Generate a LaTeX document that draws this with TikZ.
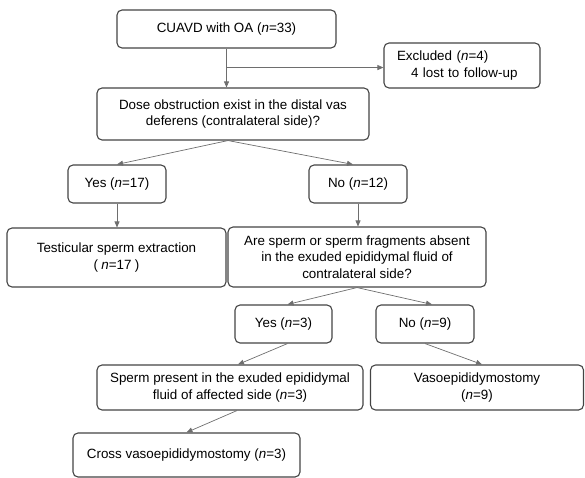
\documentclass[tikz,border=0pt]{standalone}
\usepackage{fontspec}
\setmainfont{Liberation Sans}
\usetikzlibrary{arrows.meta}
\definecolor{boxgray}{RGB}{68,68,68}
\definecolor{linegray}{RGB}{110,110,110}

\begin{document}
\begin{tikzpicture}[x=1pt, y=-1pt,
        box/.style={rectangle, rounded corners=5pt, draw=boxgray, line width=1.1pt,
            inner sep=0pt, align=center, font=\fontsize{13.4}{16.5}\selectfont},
        flow/.style={draw=linegray, line width=0.7pt, -{Triangle[length=6pt, width=5pt]}}]
            \useasboundingbox (0, 0) rectangle (585, 478);

            \node[box, minimum width=219pt, minimum height=38pt] (cuavd) at (226.5, 29) {CUAVD with OA (\textit{n}=33)};
            \node[box, text width=130pt, inner xsep=13pt, minimum height=45pt, align=left] (excl) at (462, 65.5)
                {Excluded (\textit{n}=4)\\\hspace*{14pt}4 lost to follow-up};
            \node[box, minimum width=272pt, minimum height=52pt] (dose) at (233, 114)
                {Dose obstruction exist in the distal vas\\deferens (contralateral side)?};

            \node[box, minimum width=98pt, minimum height=38pt] (yes17) at (117, 184) {Yes (\textit{n}=17)};
            \node[box, minimum width=98pt, minimum height=38pt] (no12) at (358, 184) {No (\textit{n}=12)};

            \node[box, minimum width=219pt, minimum height=59pt] (test) at (116.5, 257.5)
                {Testicular sperm extraction\\(\hspace{0.25em}\textit{n}=17\hspace{0.25em})};
            \node[box, minimum width=258pt, minimum height=60pt] (are) at (357, 257)
                {Are sperm or sperm fragments absent\\in the exuded epididymal fluid of\\contralateral side?};

            \node[box, minimum width=97pt, minimum height=38pt] (yes3) at (283.5, 324) {Yes (\textit{n}=3)};
            \node[box, minimum width=98pt, minimum height=38pt] (no9) at (425, 324) {No (\textit{n}=9)};

            \node[box, minimum width=266pt, minimum height=45pt] (sperm) at (230, 387.5)
                {Sperm present in the exuded epididymal\\fluid of affected side (\textit{n}=3)};
            \node[box, minimum width=213pt, minimum height=45pt] (vaso) at (477, 387.5)
                {Vasoepididymostomy\\(\textit{n}=9)};

            \node[box, minimum width=227pt, minimum height=44pt] (cross) at (186.5, 455)
                {Cross vasoepididymostomy (\textit{n}=3)};

            % connectors
            \path (cuavd.south) ++(0, 19) coordinate (split);
            \draw[flow] (cuavd.south) -- (cuavd.south |- dose.north);
            \draw[flow] (split) -- (split -| excl.west);

            \draw[flow] ([xshift=-5pt]dose.south) -- (yes17.north);
            \draw[flow] ([xshift=-5pt]dose.south) -- ([xshift=-5pt]no12.north);
            \draw[flow] (yes17.south) -- (yes17.south |- test.north);
            \draw[flow] (no12.south) -- (no12.south |- are.north);

            \draw[flow] (are.south) -- ([xshift=4pt]yes3.north);
            \draw[flow] (are.south) -- ([xshift=7pt]no9.north);
            \draw[flow] ([xshift=4pt]yes3.south) -- ([xshift=8pt]sperm.north);
            \draw[flow] (no9.south) -- ([xshift=5pt]vaso.north);
            \draw[flow] ([xshift=7pt]sperm.south) -- (cross.north);
        \end{tikzpicture}
\end{document}
